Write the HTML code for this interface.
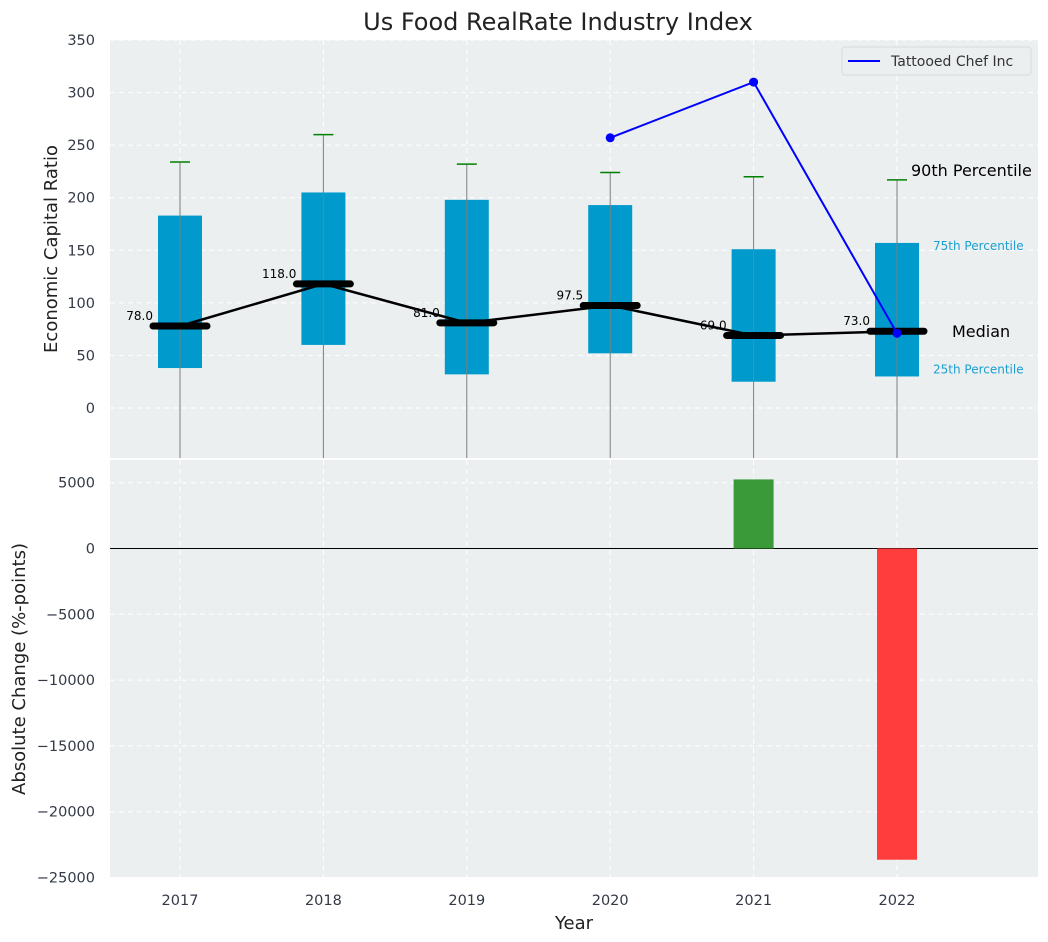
<!DOCTYPE html>
<html><head><meta charset="utf-8"><style>
body{margin:0;background:#fff;}
svg{display:block;font-family:"DejaVu Sans","Liberation Sans",sans-serif;}
</style></head><body>
<svg id="c" width="1048" height="942"></svg>
<script>
const years=['2017','2018','2019','2020','2021','2022'];
const p25=[38,60,32,52,25,30];
const p75=[183,205,198,193,151,157];
const med=[78.0,118.0,81.0,97.5,69.0,73.0];
const p90=[234,260,232,224,220,217];
const compYears=[3,4,5];
const compVals=[257,310,71];
const chgIdx=[4,5];
const chgVals=[5250,-23650];
const topTicks=[0,50,100,150,200,250,300,350];
const botTicks=[5000,0,-5000,-10000,-15000,-20000,-25000];

const NS='http://www.w3.org/2000/svg';
const svg=document.getElementById('c');
function el(t,a,p){const e=document.createElementNS(NS,t);for(const k in a)e.setAttribute(k,a[k]);(p||svg).appendChild(e);return e;}
const L=110,R=1038;
const x=i=>180+i*143.4;
const yT=v=>408-v*1.0514;
const yB=v=>548.5-v*65.8/5000;
const T1=40,B1=458,T2=460,B2=877;

let g=el('g',{});
el('rect',{x:L,y:T1,width:R-L,height:B1-T1,fill:'#eceff0'},g);
let g2=el('g',{});
el('rect',{x:L,y:T2,width:R-L,height:B2-T2,fill:'#eceff0'},g2);
years.forEach((y,i)=>{
 el('line',{x1:x(i),x2:x(i),y1:T1,y2:B1,stroke:'#fff','stroke-dasharray':'5,4','stroke-width':1},g);
 el('line',{x1:x(i),x2:x(i),y1:T2,y2:B2,stroke:'#fff','stroke-dasharray':'5,4','stroke-width':1},g2);
 const t=el('text',{x:x(i),y:905,'text-anchor':'middle','font-size':14.5,fill:'#333a46'});t.textContent=y;
 
});
topTicks.forEach(v=>{
 el('line',{x1:L,x2:R,y1:yT(v),y2:yT(v),stroke:'#fff','stroke-dasharray':'5,4'},g);
 const t=el('text',{x:95,y:yT(v)+5,'text-anchor':'end','font-size':14.5,fill:'#333a46'});t.textContent=v;
 
});
botTicks.forEach(v=>{
 if(v!==0)el('line',{x1:L,x2:R,y1:yB(v),y2:yB(v),stroke:'#fff','stroke-dasharray':'5,4'},g2);
 const t=el('text',{x:95,y:yB(v)+5,'text-anchor':'end','font-size':14.5,fill:'#333a46'});t.textContent=v<0?'\u2212'+(-v):v;
 
});
years.forEach((y,i)=>{
 const b=el('rect',{x:x(i)-22,y:yT(p75[i]),width:44,height:yT(p25[i])-yT(p75[i]),fill:'#009acd'},g);
 
 el('line',{x1:x(i),x2:x(i),y1:yT(p90[i]),y2:B1,stroke:'#7a7f80','stroke-width':1},g);
 el('line',{x1:x(i)-10,x2:x(i)+10,y1:yT(p90[i]),y2:yT(p90[i]),stroke:'green','stroke-width':1.5},g);
});
let d=med.map((v,i)=>(i?'L':'M')+x(i)+','+yT(v)).join('');
let ml=el('path',{d:d,fill:'none',stroke:'#000','stroke-width':2.5},g);

med.forEach((v,i)=>{
 el('line',{x1:x(i)-27,x2:x(i)+27,y1:yT(v),y2:yT(v),stroke:'#000','stroke-width':7,'stroke-linecap':'round'},g);
 const t=el('text',{x:x(i)-27,y:yT(v)-6,'text-anchor':'end','font-size':12,fill:'#000'},g);t.textContent=v.toFixed(1);
 
});
d=compVals.map((v,k)=>(k?'L':'M')+x(compYears[k])+','+yT(v)).join('');
let cl=el('path',{d:d,fill:'none',stroke:'#0000ff','stroke-width':2},g);

compVals.forEach((v,k)=>{const c=el('circle',{cx:x(compYears[k]),cy:yT(v),r:4.5,fill:'#0000ff'},g);
 });
const last=5;
function ann(txt,xx,yy,fs,col,name){const t=el('text',{x:xx,y:yy,'font-size':fs,fill:col},g);t.textContent=txt;}
ann('90th Percentile',x(last)+14,yT(p90[last])-4,16,'#000','p90-annotation');
ann('75th Percentile',x(last)+36,yT(p75[last])+7,12,'#1a9fd0','p75-annotation');
ann('Median',x(last)+55,yT(med[last])+6,16,'#000','median-annotation');
ann('25th Percentile',x(last)+36,yT(p25[last])-3,12,'#1a9fd0','p25-annotation');
let lg=el('g',{});
el('rect',{x:842,y:47,width:189,height:28,rx:3,fill:'#eceff0',stroke:'#d8dadc'},lg);
el('line',{x1:848,x2:880,y1:61,y2:61,stroke:'#0000ff','stroke-width':2},lg);
let lt=el('text',{x:891,y:66,'font-size':14,fill:'#333'},lg);lt.textContent='Tattooed Chef Inc';
el('line',{x1:L,x2:R,y1:yB(0),y2:yB(0),stroke:'#000','stroke-width':1},g2);
chgVals.forEach((v,k)=>{const i=chgIdx[k];
 const r=el('rect',{x:x(i)-20,y:Math.min(yB(v),yB(0)),width:40,height:Math.abs(yB(v)-yB(0)),fill:v>=0?'#3a9a3a':'#ff3d3d'},g2);
 });
function tx(txt,a,name){const t=el('text',a);t.textContent=txt;}
tx('Us Food RealRate Industry Index',{x:558,y:30,'text-anchor':'middle','font-size':24,fill:'#222'},'chart-title');
tx('Year',{x:574,y:929,'text-anchor':'middle','font-size':18,fill:'#222'},'x-axis-title');
tx('Economic Capital Ratio',{x:0,y:0,transform:'translate(57,249) rotate(-90)','text-anchor':'middle','font-size':18,fill:'#222'},'y-axis-title-top');
tx('Absolute Change (%-points)',{x:0,y:0,transform:'translate(25,669) rotate(-90)','text-anchor':'middle','font-size':18,fill:'#222'},'y-axis-title-bottom');
</script>
</body></html>
